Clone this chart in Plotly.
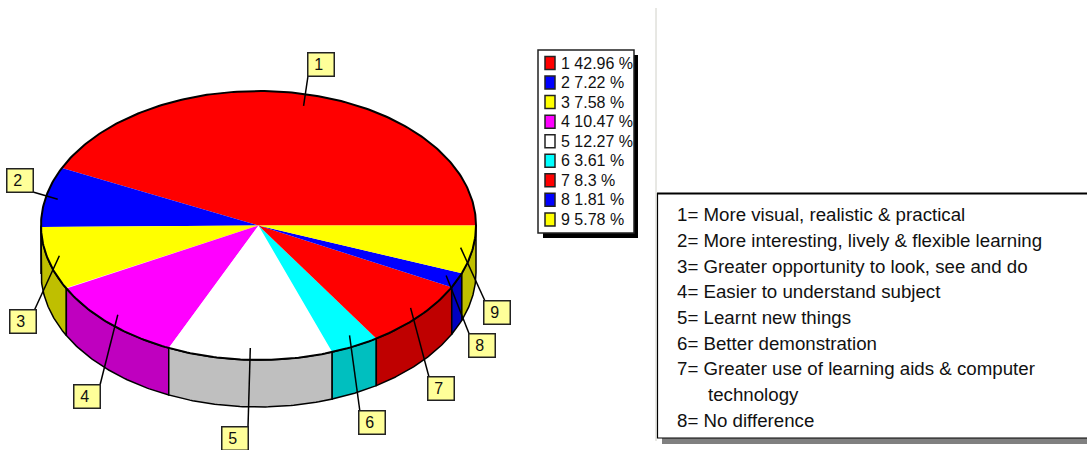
import numpy as np
import plotly.graph_objects as go

# slices
slice_names = ["1", "2", "3", "4", "5", "6", "7", "8", "9"]
slice_pct = [42.96, 7.22, 7.58, 10.47, 12.27, 3.61, 8.3, 1.81, 5.78]
top_colors = ["#FF0000", "#0000FF", "#FFFF00", "#FF00FF", "#FFFFFF", "#00FFFF", "#FF0000", "#0000FF", "#FFFF00"]
side_colors = ["#BF0000", "#0000BF", "#BFBF00", "#BF00BF", "#BFBFBF", "#00BFBF", "#BF0000", "#0000BF", "#BFBF00"]

notes = [
    "1= More visual, realistic & practical",
    "2= More interesting, lively & flexible learning",
    "3= Greater opportunity to look, see and do",
    "4= Easier to understand subject",
    "5= Learnt new things",
    "6= Better demonstration",
    "7= Greater use of learning aids & computer",
    "technology",
    "8= No difference",
]
note_y = [214.5, 240.5, 266.5, 291.5, 317.5, 343.5, 368.5, 394.5, 420.5]
note_x = [675, 675, 675, 675, 675, 675, 675, 706, 675]

# pie geometry, in page pixels
cx, cy, rx, ry, depth = 258.5, 225.5, 217.5, 134.5, 47
FONT = "Liberation Sans, Arial, sans-serif"

# label box centres and where the leader leaves the box
label_pos = [(321, 64), (20, 180), (23, 321), (87, 396), (235, 438), (372, 422), (441, 388), (482, 345), (497, 312)]
leader_out = [(308, 76), (33, 192), (34, 311), (100, 385), (248, 427), (360, 412), (429, 377), (470, 336), (485, 301)]


def ell(deg, inset=0, dy=0):
    a = np.radians(deg)
    return cx + (rx - inset) * np.cos(a), cy + (ry - inset) * np.sin(a) + dy


# the pie runs clockwise from 3 o'clock, last slice first
pct = np.array(slice_pct)[::-1]
stops = np.concatenate([[0], np.cumsum(pct)]) / pct.sum() * 360
starts = dict(zip(slice_names[::-1], stops[:-1]))
ends = dict(zip(slice_names[::-1], stops[1:]))

fig = go.Figure()

# side wall, front half only
for i, name in enumerate(slice_names):
    a0, a1 = starts[name], ends[name]
    if a0 >= 180:
        continue
    arc = np.linspace(a0, min(a1, 180), 60)
    xt, yt = ell(arc)
    xb, yb = ell(arc[::-1], dy=depth)
    fig.add_trace(go.Scatter(
        x=np.concatenate([xt, xb, xt[:1]]), y=np.concatenate([yt, yb, yt[:1]]),
        mode="lines", fill="toself", fillcolor=side_colors[i],
        line=dict(color="#000000", width=1.5),
    ))

# top face
for i, name in enumerate(slice_names):
    arc = np.linspace(starts[name], ends[name], 120)
    xt, yt = ell(arc)
    fig.add_trace(go.Scatter(
        x=np.concatenate([[cx], xt, [cx]]), y=np.concatenate([[cy], yt, [cy]]),
        mode="lines", fill="toself", fillcolor=top_colors[i],
        line=dict(width=0),
    ))

# rim of the top face
rim = np.linspace(0, 360, 400)
fig.add_trace(go.Scatter(x=ell(rim)[0], y=ell(rim)[1], mode="lines", line=dict(color="#000000", width=2)))

# leaders from the label box to inside the slice
for i, name in enumerate(slice_names):
    mid = (starts[name] + ends[name]) / 2
    xi, yi = ell(mid, inset=12)
    fig.add_trace(go.Scatter(
        x=[leader_out[i][0], xi], y=[leader_out[i][1], yi],
        mode="lines", line=dict(color="#000000", width=1.5),
    ))

shapes = [
    # legend box and its shadow
    dict(type="rect", x0=543, y0=55, x1=638, y1=238, fillcolor="#000000", line=dict(width=0)),
    dict(type="rect", x0=538, y0=50, x1=634, y1=233, fillcolor="#FFFFFF", line=dict(color="#222222", width=1.5)),
    # divider and the notes box
    dict(type="line", x0=656, y0=8, x1=656, y1=441, line=dict(color="#D0D0C8", width=1)),
    dict(type="rect", x0=662, y0=438, x1=1090, y1=444, fillcolor="#808080", line=dict(width=0)),
    dict(type="rect", x0=657.5, y0=193.5, x1=1090, y1=438, fillcolor="#FFFFFF", line=dict(color="#000000", width=1.2)),
    dict(type="line", x0=657, y0=193.5, x1=1090, y1=193.5, line=dict(color="#000000", width=2)),
]

annotations = []
for i, name in enumerate(slice_names):
    row_y = 63 + i * 19.55
    shapes.append(dict(type="rect", x0=545, x1=555, y0=row_y - 6.5, y1=row_y + 6.5,
                       fillcolor=top_colors[i], line=dict(color="#222222", width=1.5)))
    annotations.append(dict(x=559, y=row_y, text=f"{name} {slice_pct[i]:g} %", xanchor="left", showarrow=False,
                            font=dict(family=FONT, size=16, color="#111111")))
    annotations.append(dict(x=label_pos[i][0], y=label_pos[i][1], text=name + "&nbsp;", showarrow=False, width=25, height=22,
                            bgcolor="#FFFF99", bordercolor="#222222", borderwidth=1.5, borderpad=0,
                            font=dict(family=FONT, size=16, color="#111111")))

for text, x, y in zip(notes, note_x, note_y):
    annotations.append(dict(x=x, y=y, text=text.replace("&", "&amp;"), xanchor="left", showarrow=False,
                            font=dict(family=FONT, size=18.7, color="#111111")))

fig.update_layout(
    width=1087, height=450, margin=dict(l=0, r=0, t=0, b=0),
    paper_bgcolor="#FFFFFF", plot_bgcolor="#FFFFFF", showlegend=False, hovermode=False,
    xaxis=dict(range=[0, 1087], visible=False, fixedrange=True),
    yaxis=dict(range=[450, 0], visible=False, fixedrange=True),
    shapes=shapes, annotations=annotations,
)

fig.write_html("out.html", post_script="document.body.style.margin='0';", config=dict(displayModeBar=False))
